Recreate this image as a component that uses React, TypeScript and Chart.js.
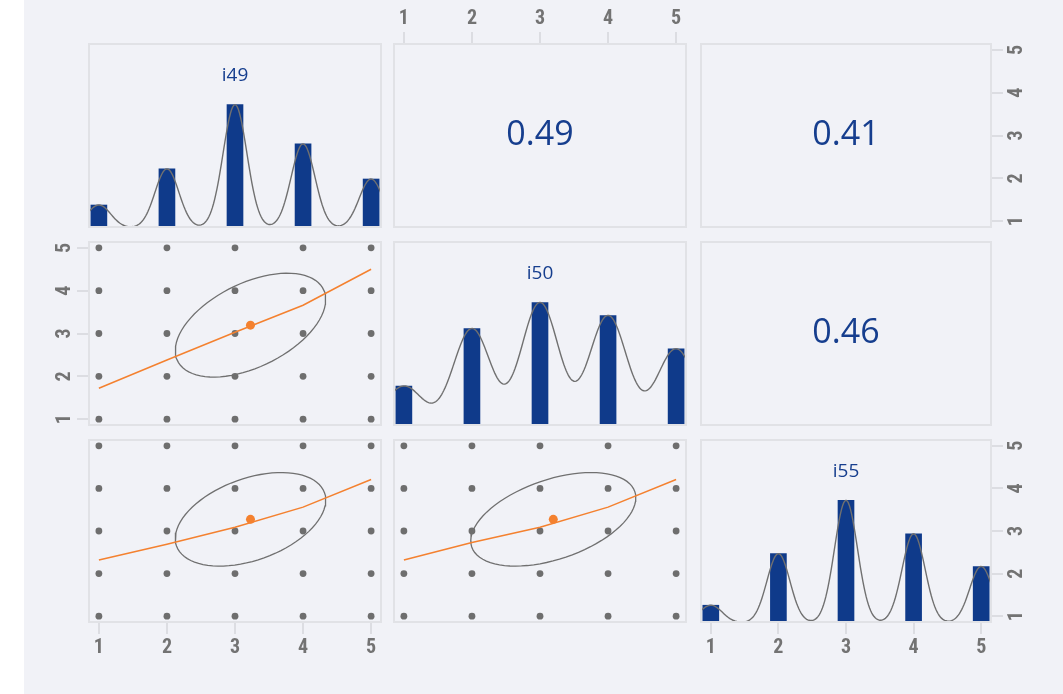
import React, { useEffect, useRef } from "react";
import { Chart, registerables } from "chart.js";

Chart.register(...registerables);

// ---------------- data ----------------
const levels = [1, 2, 3, 4, 5];
const tickValues = [1, 2, 3, 4, 5];
const varNames = ["i49", "i50", "i55"];
// relative frequency of each response level
const i49Freq = [0.068, 0.175, 0.365, 0.249, 0.145];
const i50Freq = [0.089, 0.217, 0.275, 0.246, 0.172];
const i55Freq = [0.05, 0.195, 0.345, 0.251, 0.159];
// kernel bandwidths of the density curves
const densityBandwidth = [0.175, 0.275, 0.17];
// correlations: i49-i50, i49-i55, i50-i55
const corrI49I50 = 0.49;
const corrI49I55 = 0.41;
const corrI50I55 = 0.46;
// lowess fits evaluated at the levels 1..5
const loessI50onI49 = [1.72, 2.38, 3.03, 3.66, 4.5];
const loessI55onI49 = [2.32, 2.69, 3.09, 3.56, 4.21];
const loessI55onI50 = [2.32, 2.73, 3.09, 3.56, 4.21];

// ---------------- styling ----------------
const AX_MIN = 0.84;
const AX_MAX = 5.16;
const BLUE = "#0f3a8a";
const TEXT_BLUE = "#163e8e";
const ORANGE = "#f4812f";
const GRAY = "#6e6e6e";
const FRAME = "#e1e2e6";
const TICK_FONT = {
  family: "'Roboto Condensed', 'DejaVu Sans Condensed', sans-serif",
  size: 20,
  weight: "bold" as const,
};
const LABEL_FAMILY = "'Open Sans', 'Noto Sans', sans-serif";

// ---------------- derived statistics ----------------
const total = (f: number[]) => f.reduce((s, p) => s + p, 0);
const meanOf = (f: number[]) => f.reduce((s, p, i) => s + p * levels[i], 0) / total(f);
const sdOf = (f: number[]) => {
  const m = meanOf(f);
  return Math.sqrt(f.reduce((s, p, i) => s + p * (levels[i] - m) ** 2, 0) / total(f));
};

// Gaussian kernel density of the level frequencies (peak scaled to the bar height)
function densityCurve(freq: number[], bw: number) {
  const pts: { x: number; y: number }[] = [];
  const n = 260;
  for (let k = 0; k <= n; k++) {
    const x = AX_MIN + ((AX_MAX - AX_MIN) * k) / n;
    let y = 0;
    levels.forEach((lv, i) => {
      y += freq[i] * Math.exp(-((x - lv) ** 2) / (2 * bw * bw));
    });
    pts.push({ x, y });
  }
  return pts;
}

// correlation ellipse (psych::draw.ellipse)
function ellipse(fx: number[], fy: number[], r: number) {
  const mx = meanOf(fx), my = meanOf(fy), sx = sdOf(fx), sy = sdOf(fy);
  const th = (r >= 0 ? 1 : -1) / Math.sqrt(2);
  const a = Math.sqrt(1 + r), b = Math.sqrt(1 - r);
  const pts: { x: number; y: number }[] = [];
  const seg = 80;
  for (let k = 0; k <= seg; k++) {
    const t = (k * 2 * Math.PI) / seg;
    const c = Math.cos(t), s = Math.sin(t);
    const ex = c * a * th - s * b * th;
    const ey = c * a * th + s * b * th;
    pts.push({ x: ex * sx + mx, y: ey * sy + my });
  }
  return pts;
}

// ---------------- plugin: frame + centred text ----------------
const panelPlugin = {
  id: "panelDecor",
  afterDraw(chart: any, _args: any, opts: any) {
    const { ctx, chartArea: a } = chart;
    ctx.save();
    ctx.strokeStyle = FRAME;
    ctx.lineWidth = 2;
    ctx.strokeRect(a.left + 1, a.top + 1, a.right - a.left - 2, a.bottom - a.top - 2);
    if (opts && opts.text) {
      ctx.fillStyle = TEXT_BLUE;
      ctx.font = `${opts.size}px ${LABEL_FAMILY}`;
      ctx.textAlign = "center";
      ctx.textBaseline = "middle";
      const cx = (a.left + a.right) / 2;
      const cy = opts.offset == null ? (a.top + a.bottom) / 2 : a.top + opts.offset;
      ctx.fillText(opts.text, cx, cy);
    }
    ctx.restore();
  },
};

// ---------------- scale helpers ----------------
const hidden = (extra: any = {}) => ({ type: "linear", display: false, min: AX_MIN, max: AX_MAX, ...extra });

function axis(position: string, size: number, padding: number) {
  const horizontal = position === "top" || position === "bottom";
  return {
    type: "linear",
    position,
    min: AX_MIN,
    max: AX_MAX,
    offset: false,
    afterBuildTicks: (s: any) => {
      s.ticks = tickValues.map((v) => ({ value: v }));
    },
    afterFit: (s: any) => {
      if (horizontal) s.height = size;
      else s.width = size;
      s.paddingTop = 0;
      s.paddingBottom = 0;
      s.paddingLeft = 0;
      s.paddingRight = 0;
    },
    grid: { drawOnChartArea: false, drawTicks: true, tickLength: 11, color: "#dcdde2", lineWidth: 2, offset: false },
    border: { display: false },
    ticks: {
      autoSkip: false,
      color: "#737373",
      font: TICK_FONT,
      padding,
      minRotation: horizontal ? 0 : 90,
      maxRotation: horizontal ? 0 : 90,
      crossAlign: horizontal ? "near" : "center",
      callback: (v: any) => String(v),
    },
  };
}

const baseOptions = (scales: any, decor: any = {}) => ({
  responsive: false,
  animation: false,
  events: [],
  layout: { padding: 0, autoPadding: false },
  scales,
  plugins: { legend: { display: false }, tooltip: { enabled: false }, panelDecor: decor },
});

// ---------------- chart configs ----------------
function histConfig(idx: number, freq: number[], extraScales: any = {}) {
  const maxF = Math.max(...freq);
  return {
    type: "bar",
    data: {
      datasets: [
        {
          type: "line",
          data: densityCurve(freq, densityBandwidth[idx]),
          borderColor: "#707070",
          borderWidth: 1.4,
          pointRadius: 0,
          tension: 0,
          order: 1,
        },
        {
          type: "scatter",
          data: levels.map((x) => ({ x, y: 0 })),
          yAxisID: "rug",
          pointStyle: "line",
          rotation: 90,
          pointRadius: 3,
          borderColor: "#7d7d85",
          borderWidth: 1.5,
          order: 2,
        },
        {
          type: "bar",
          data: levels.map((x, i) => ({ x, y: freq[i] })),
          backgroundColor: BLUE,
          barThickness: 16,
          order: 3,
        },
      ],
    },
    options: baseOptions(
      {
        x: hidden({ offset: false, grid: { offset: false } }),
        y: { type: "linear", display: false, min: 0, max: maxF * 1.5 },
        rug: { type: "linear", display: false, min: -1.2, max: 60 },
        ...extraScales,
      },
      { text: varNames[idx], size: 19, offset: 33 }
    ),
  };
}

function scatterConfig(fx: number[], fy: number[], r: number, loess: number[], extraScales: any = {}) {
  const grid: { x: number; y: number }[] = [];
  levels.forEach((x) => levels.forEach((y) => grid.push({ x, y })));
  return {
    type: "scatter",
    data: {
      datasets: [
        { data: [{ x: meanOf(fx), y: meanOf(fy) }], backgroundColor: ORANGE, borderWidth: 0, pointRadius: 4.5, order: 1 },
        { data: levels.map((x, i) => ({ x, y: loess[i] })), showLine: true, borderColor: ORANGE, borderWidth: 1.5, pointRadius: 0, order: 2 },
        { data: ellipse(fx, fy, r), showLine: true, borderColor: "#707070", borderWidth: 1.3, pointRadius: 0, order: 3 },
        { data: grid, backgroundColor: GRAY, borderWidth: 0, pointRadius: 3.4, order: 4 },
      ],
    },
    options: baseOptions({ x: hidden(), y: hidden(), ...extraScales }),
  };
}

function textConfig(value: number, extraScales: any = {}) {
  return {
    type: "scatter",
    data: { datasets: [] },
    options: baseOptions({ x: hidden(), y: hidden(), ...extraScales }, { text: value.toFixed(2), size: 34 }),
  };
}

// ---------------- layout ----------------
const COLS = [
  { x: 88, w: 294 },
  { x: 393, w: 294 },
  { x: 700, w: 292 },
];
const ROWS = [
  { y: 43, h: 185 },
  { y: 241, h: 185 },
  { y: 439, h: 184 },
];
const TOP = 43, LEFT = 48, RIGHT = 48, BOTTOM = 40;

type Rect = { x: number; y: number; w: number; h: number };

function Panel({ rect, build }: { rect: Rect; build: () => any }) {
  const ref = useRef<HTMLCanvasElement | null>(null);
  useEffect(() => {
    const cfg = build();
    cfg.plugins = [panelPlugin];
    const chart = new Chart(ref.current as HTMLCanvasElement, cfg);
    return () => chart.destroy();
  }, []);
  return (
    <canvas
      ref={ref}
      width={rect.w}
      height={rect.h}
      style={{ position: "absolute", left: rect.x, top: rect.y, width: rect.w, height: rect.h }}
    />
  );
}

export default function App() {
  const panels: { rect: Rect; build: () => any }[] = [
    // row 1
    { rect: { x: COLS[0].x, y: ROWS[0].y, w: COLS[0].w, h: ROWS[0].h }, build: () => histConfig(0, i49Freq) },
    {
      rect: { x: COLS[1].x, y: ROWS[0].y - TOP, w: COLS[1].w, h: ROWS[0].h + TOP },
      build: () => textConfig(corrI49I50, { x: axis("top", TOP, 1) }),
    },
    {
      rect: { x: COLS[2].x, y: ROWS[0].y, w: COLS[2].w + RIGHT, h: ROWS[0].h },
      build: () => textConfig(corrI49I55, { y: axis("right", RIGHT, 9) }),
    },
    // row 2
    {
      rect: { x: COLS[0].x - LEFT, y: ROWS[1].y, w: COLS[0].w + LEFT, h: ROWS[1].h },
      build: () => scatterConfig(i49Freq, i50Freq, corrI49I50, loessI50onI49, { y: axis("left", LEFT, 7) }),
    },
    { rect: { x: COLS[1].x, y: ROWS[1].y, w: COLS[1].w, h: ROWS[1].h }, build: () => histConfig(1, i50Freq) },
    { rect: { x: COLS[2].x, y: ROWS[1].y, w: COLS[2].w, h: ROWS[1].h }, build: () => textConfig(corrI50I55) },
    // row 3
    {
      rect: { x: COLS[0].x, y: ROWS[2].y, w: COLS[0].w, h: ROWS[2].h + BOTTOM },
      build: () => scatterConfig(i49Freq, i55Freq, corrI49I55, loessI55onI49, { x: axis("bottom", BOTTOM, 2) }),
    },
    {
      rect: { x: COLS[1].x, y: ROWS[2].y, w: COLS[1].w, h: ROWS[2].h },
      build: () => scatterConfig(i50Freq, i55Freq, corrI50I55, loessI55onI50),
    },
    {
      rect: { x: COLS[2].x, y: ROWS[2].y, w: COLS[2].w + RIGHT, h: ROWS[2].h + BOTTOM },
      build: () =>
        histConfig(2, i55Freq, {
          x: { ...axis("bottom", BOTTOM, 2), offset: false },
          yr: axis("right", RIGHT, 9),
        }),
    },
  ];

  return (
    <div style={{ position: "absolute", left: 0, top: 0, width: 1063, height: 694, background: "#ffffff", overflow: "hidden" }}>
      <div style={{ position: "absolute", left: 24, top: 0, width: 1039, height: 694, background: "#f1f2f7" }} />
      {panels.map((p, i) => (
        <Panel key={i} rect={p.rect} build={p.build} />
      ))}
    </div>
  );
}
